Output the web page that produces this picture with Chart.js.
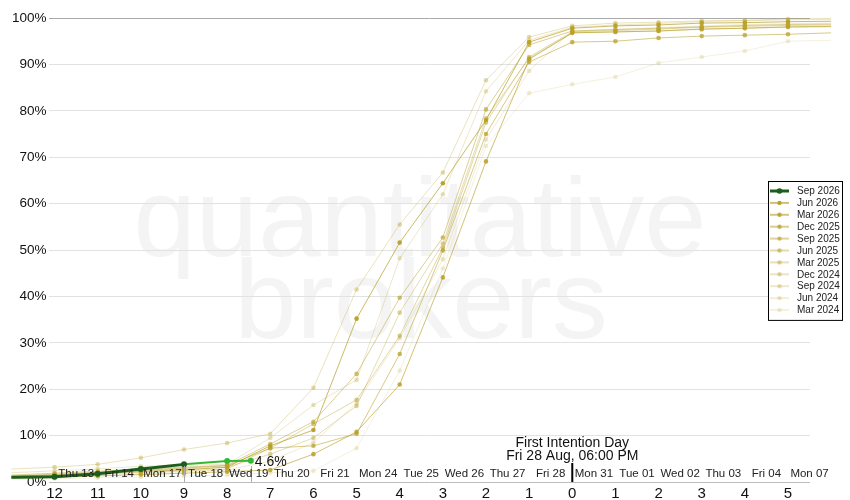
<!DOCTYPE html>
<html>
<head>
<meta charset="utf-8">
<script src="https://cdn.jsdelivr.net/npm/chart.js@4.4.1/dist/chart.umd.min.js"></script>
<style>
  html, body { margin: 0; padding: 0; background: #fff; }
  #wrap { width: 850px; height: 500px; }
</style>
</head>
<body>
<div id="wrap"><canvas id="chart" width="850" height="500"></canvas></div>
<script>
// business days relative to First Intention Day (negative = before)
const days = [-13, -12, -11, -10, -9, -8, -7, -6, -5, -4, -3, -2, -1, 0, 1, 2, 3, 4, 5, 6];

// current contract, last point is intraday
const curDays = [-13, -12, -11, -10, -9, -8, -7.45];
const sep2026 = [1.05, 1.15, 1.8, 2.8, 3.8, 4.5, 4.6];

// past contracts, cumulative roll %
const jun2026 = [1.0, 1.4, 1.8, 2.3, 2.6, 3.2, 7.8, 11.2, 35.2, 51.6, 64.4, 78.0, 94.8, 97.8, 98.3, 98.5, 98.9, 99.0, 99.2, 99.3];
const mar2026 = [0.8, 1.0, 1.3, 1.6, 1.9, 2.2, 2.6, 6.0, 10.8, 21.0, 44.1, 69.1, 91.1, 96.8, 97.0, 97.2, 97.6, 97.8, 98.1, 98.2];
const dec2025 = [1.2, 1.6, 2.0, 2.6, 3.0, 3.5, 7.3, 7.8, 10.4, 27.6, 49.9, 75.0, 90.5, 94.8, 95.0, 95.7, 96.1, 96.3, 96.5, 96.8];
const sep2025 = [1.5, 1.9, 2.3, 2.8, 3.2, 3.6, 8.2, 13.0, 23.3, 39.7, 52.7, 80.3, 94.2, 97.2, 97.5, 97.8, 98.1, 98.4, 98.6, 98.7];
const jun2025 = [1.1, 1.4, 1.7, 2.1, 2.4, 2.8, 7.3, 12.5, 17.7, 31.5, 50.5, 77.5, 91.6, 97.0, 97.3, 97.6, 98.0, 98.2, 98.4, 98.5];
const mar2025 = [1.3, 1.7, 2.1, 2.5, 2.8, 3.2, 6.0, 9.5, 16.4, 36.5, 51.4, 78.4, 91.3, 96.8, 97.0, 97.2, 97.6, 97.8, 98.0, 98.1];
const dec2024 = [2.8, 3.2, 3.8, 5.2, 7.0, 8.4, 10.4, 20.3, 41.5, 55.5, 66.7, 86.6, 95.9, 98.3, 98.9, 99.1, 99.4, 99.5, 99.8, 99.9];
const sep2024 = [2.0, 2.4, 2.8, 3.4, 3.6, 3.8, 9.5, 16.6, 22.0, 48.2, 62.0, 84.2, 95.2, 98.0, 98.5, 98.8, 99.2, 99.4, 99.6, 99.7];
const jun2024 = [0.9, 1.2, 1.5, 1.9, 2.2, 2.6, 4.5, 8.5, 17.0, 31.0, 48.0, 73.8, 88.6, 97.2, 97.6, 97.9, 98.3, 98.6, 98.8, 98.9];
const mar2024 = [0.5, 0.7, 0.9, 1.1, 1.3, 1.5, 2.0, 2.4, 7.3, 24.0, 46.0, 72.4, 83.8, 85.7, 87.3, 90.3, 91.6, 92.9, 95.0, 95.2];

const pastNames = ['Jun 2026', 'Mar 2026', 'Dec 2025', 'Sep 2025', 'Jun 2025', 'Mar 2025', 'Dec 2024', 'Sep 2024', 'Jun 2024', 'Mar 2024'];
const pastValues = [jun2026, mar2026, dec2025, sep2025, jun2025, mar2025, dec2024, sep2024, jun2024, mar2024];
const pastAlpha = [0.95, 0.85, 0.75, 0.65, 0.55, 0.47, 0.4, 0.33, 0.26, 0.2];

// trading dates sit between the day ticks
const dateLabels = ['Thu 13', 'Fri 14', 'Mon 17', 'Tue 18', 'Wed 19', 'Thu 20', 'Fri 21', 'Mon 24', 'Tue 25', 'Wed 26', 'Thu 27', 'Fri 28',
                    'Mon 31', 'Tue 01', 'Wed 02', 'Thu 03', 'Fri 04', 'Mon 07'];
const datePos = [-11.5, -10.5, -9.5, -8.5, -7.5, -6.5, -5.5, -4.5, -3.5, -2.5, -1.5, -0.5, 0.5, 1.5, 2.5, 3.5, 4.5, 5.5];

const fidLines = ['First Intention Day', 'Fri 28 Aug, 06:00 PM'];

const FONT = "'Liberation Sans', Arial, sans-serif";
const DARK_GREEN = '#1d5e1d';
const BRIGHT_GREEN = '#35b735';
const gold = a => 'rgba(184,160,40,' + a + ')';

// hide the points that fall off the plot
const edgeRadius = r => ctx => {
    const x = ctx.raw ? ctx.raw.x : 0;
    return (x <= -13 || x >= 6) ? 0 : r;
};

const datasets = [{
    label: 'Sep 2026',
    data: curDays.map((d, i) => ({ x: d, y: sep2026[i] })),
    borderColor: DARK_GREEN,
    backgroundColor: ctx => (ctx.raw && ctx.raw.x > -9) ? BRIGHT_GREEN : DARK_GREEN,
    borderWidth: 3,
    pointRadius: edgeRadius(3),
    pointBorderWidth: 0,
    segment: {
        borderColor: s => s.p0.parsed.x >= -9 ? BRIGHT_GREEN : DARK_GREEN,
        borderWidth: s => s.p0.parsed.x >= -9 ? 2 : 3
    },
    clip: false,
    legendColor: DARK_GREEN,
    legendWidth: 3
}];

pastNames.forEach((name, k) => {
    datasets.push({
        label: name,
        data: days.map((d, i) => ({ x: d, y: pastValues[k][i] })),
        borderColor: gold(pastAlpha[k] * 0.75),
        backgroundColor: gold(pastAlpha[k]),
        borderWidth: 1,
        pointRadius: edgeRadius(2.3),
        pointBorderWidth: 0,
        clip: false,
        legendColor: gold(pastAlpha[k] * 0.7),
        legendWidth: 2
    });
});

// big faded logo text behind everything
const watermark = {
    id: 'watermark',
    beforeDraw(chart) {
        const c = chart.ctx;
        c.save();
        c.fillStyle = '#f4f4f4';
        c.font = '112px ' + FONT;
        c.textAlign = 'center';
        c.textBaseline = 'alphabetic';
        c.fillText('quantitative', 420, 256);
        c.fillText('brokers', 421, 338);
        c.restore();
    }
};

const overlay = {
    id: 'overlay',
    afterDatasetsDraw(chart) {
        const c = chart.ctx;
        const xs = chart.scales.x;
        const bottom = chart.chartArea.bottom;
        c.save();

        // markers: start of today, now, first intention day
        c.strokeStyle = '#aaa';
        c.lineWidth = 1;
        [-9, curDays[curDays.length - 1]].forEach(v => {
            const px = Math.round(xs.getPixelForValue(v)) + 0.5;
            c.beginPath();
            c.moveTo(px, bottom - 16);
            c.lineTo(px, bottom);
            c.stroke();
        });
        const fx = xs.getPixelForValue(0);
        c.strokeStyle = '#000';
        c.lineWidth = 2;
        c.beginPath();
        c.moveTo(fx, bottom - 19);
        c.lineTo(fx, bottom);
        c.stroke();

        // date row
        c.fillStyle = '#222';
        c.font = '11.5px ' + FONT;
        c.textAlign = 'center';
        c.textBaseline = 'middle';
        dateLabels.forEach((t, i) => c.fillText(t, xs.getPixelForValue(datePos[i]), bottom - 8.5));

        c.font = '14px ' + FONT;
        c.fillStyle = '#111';
        c.fillText(fidLines[0], fx, bottom - 39);
        c.fillText(fidLines[1], fx, bottom - 26);

        // value label next to the latest point
        const meta = chart.getDatasetMeta(0);
        const last = meta.data[meta.data.length - 1];
        c.textAlign = 'left';
        c.font = '14px ' + FONT;
        c.fillText(sep2026[sep2026.length - 1].toFixed(1) + '%', last.x + 4, last.y + 1);
        c.restore();
    },
    afterDraw(chart) {
        const c = chart.ctx;
        const left = 768, top = 181, w = 74, rowH = 11.9;
        const h = rowH * chart.data.datasets.length + 8;
        c.save();
        c.fillStyle = '#fff';
        c.fillRect(left, top, w, h);
        c.strokeStyle = '#000';
        c.lineWidth = 1;
        c.strokeRect(left + 0.5, top + 0.5, w, h);
        c.font = '10px ' + FONT;
        c.textBaseline = 'middle';
        c.textAlign = 'left';
        chart.data.datasets.forEach((ds, i) => {
            const y = top + 10 + i * rowH;
            c.strokeStyle = ds.legendColor;
            c.lineWidth = ds.legendWidth;
            c.beginPath();
            c.moveTo(left + 2, y);
            c.lineTo(left + 21, y);
            c.stroke();
            c.fillStyle = ds.backgroundColor instanceof Function ? DARK_GREEN : ds.backgroundColor;
            c.beginPath();
            c.arc(left + 11.5, y, i === 0 ? 2.8 : 2.2, 0, Math.PI * 2);
            c.fill();
            c.fillStyle = '#222';
            c.fillText(ds.label, left + 29, y + 0.5);
        });
        c.restore();
    }
};

const chart = new Chart(document.getElementById('chart').getContext('2d'), {
    type: 'line',
    data: { datasets: datasets },
    plugins: [watermark, overlay],
    options: {
        responsive: false,
        animation: false,
        layout: { padding: { left: 10, right: 40, top: 18, bottom: -6 } },
        plugins: {
            legend: { display: false },
            tooltip: { enabled: false }
        },
        scales: {
            x: {
                type: 'linear',
                min: -12.14,
                max: 5.51,
                grid: { display: false, drawTicks: false },
                border: { display: false },
                ticks: {
                    stepSize: 1,
                    includeBounds: false,
                    padding: 3,
                    color: '#111',
                    font: { size: 15, family: FONT },
                    callback: v => Math.abs(v)
                }
            },
            y: {
                min: 0,
                max: 100,
                grid: {
                    drawTicks: false,
                    color: ctx => ctx.tick.value === 100 ? '#aaa' : (ctx.tick.value === 0 ? '#bbb' : '#e2e2e2')
                },
                border: { display: false },
                ticks: {
                    stepSize: 10,
                    padding: 2,
                    color: '#111',
                    font: { size: 13.5, family: FONT },
                    callback: v => v + '%'
                }
            }
        }
    }
});
</script>
</body>
</html>
